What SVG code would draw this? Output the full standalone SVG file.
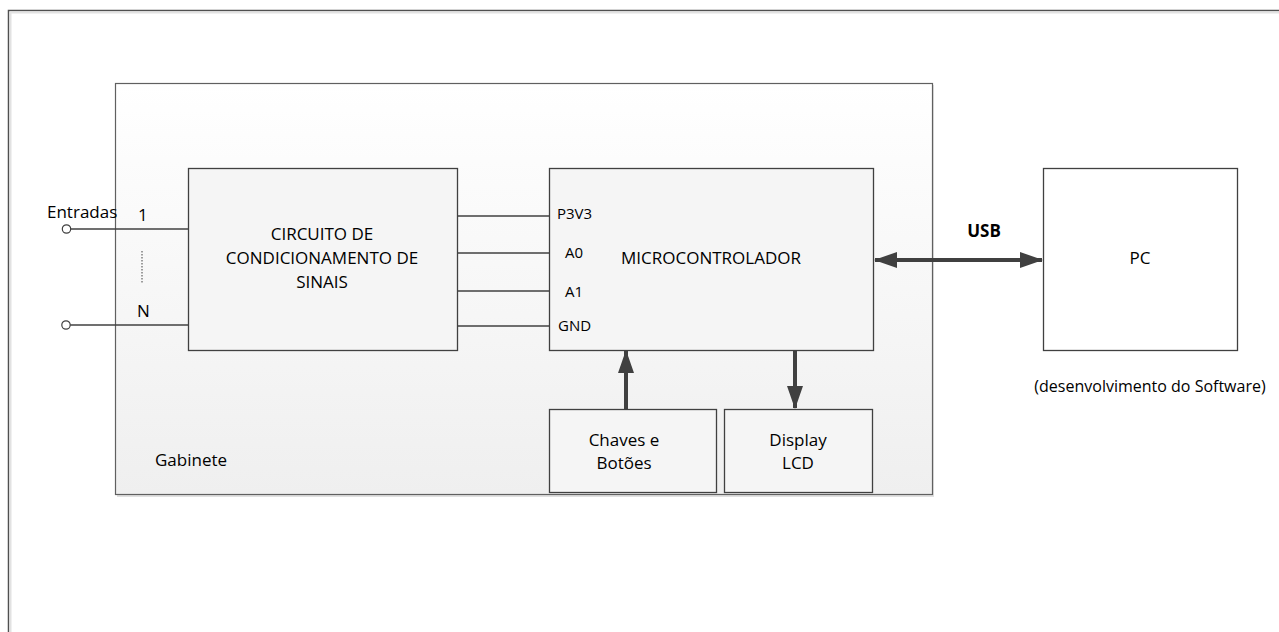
<svg xmlns="http://www.w3.org/2000/svg" width="1279" height="632" viewBox="0 0 1279 632">
<defs>
<linearGradient id="gab" x1="0" y1="0" x2="0" y2="1">
<stop offset="0" stop-color="#ffffff"/>
<stop offset="1" stop-color="#efefef"/>
</linearGradient>
<marker id="ah" markerWidth="23" markerHeight="16" refX="22" refY="8" orient="auto-start-reverse" markerUnits="userSpaceOnUse">
<path d="M0,0 L23,8 L0,16 Z" fill="#404040"/>
</marker>
<style>
text{font-family:"Open Sans","Liberation Sans",sans-serif;font-size:17px;fill:#000}
.pin{font-size:15px}
.box{fill:#f5f5f5;stroke:#404040;stroke-width:1.3}
.wbox{fill:#ffffff;stroke:#404040;stroke-width:1.3}
.wire{stroke:#404040;stroke-width:1.3;fill:none}
.thick{stroke:#404040;stroke-width:4;fill:none}
.mid{text-anchor:middle}
</style>
</defs>
<rect x="0" y="0" width="1279" height="632" fill="#ffffff"/>
<g id="frame">
<path d="M8.5,632 V10.5 H1279" fill="none" stroke="#505050" stroke-width="1.5"/>
<path d="M10.5,632 V12.5 H1279" fill="none" stroke="#e2e2e2" stroke-width="2"/>
</g>
<g id="gabinete">
<rect x="117" y="85" width="817" height="412" fill="#e0e0e0"/>
<rect x="115.5" y="83.5" width="817" height="411" fill="url(#gab)" stroke="#606060" stroke-width="1.2"/>
<text x="155" y="466">Gabinete</text>
</g>
<g id="connectors">
<circle cx="66.5" cy="229" r="4.2" fill="#fff" stroke="#404040" stroke-width="1.2"/>
<line class="wire" x1="70.7" y1="229" x2="188" y2="229"/>
<circle cx="66" cy="325" r="4.2" fill="#fff" stroke="#404040" stroke-width="1.2"/>
<line class="wire" x1="70.2" y1="325" x2="188" y2="325"/>
<line x1="142" y1="251" x2="142" y2="284" stroke="#404040" stroke-width="1" stroke-dasharray="1.5,1.5"/>
<line class="wire" x1="457" y1="216" x2="549" y2="216"/>
<line class="wire" x1="457" y1="253" x2="549" y2="253"/>
<line class="wire" x1="457" y1="291" x2="549" y2="291"/>
<line class="wire" x1="457" y1="326" x2="549" y2="326"/>
<line class="thick" x1="875" y1="260" x2="1042" y2="260" marker-start="url(#ah)" marker-end="url(#ah)"/>
<line class="thick" x1="626" y1="409" x2="626" y2="351" marker-end="url(#ah)"/>
<line class="thick" x1="795" y1="350" x2="795" y2="408" marker-end="url(#ah)"/>
</g>
<g id="labels">
<text x="47" y="218">Entradas</text>
<text x="138" y="221">1</text>
<text x="137" y="317">N</text>
<text x="984" y="237" class="mid" style="font-weight:bold;font-size:17px">USB</text>
<text x="1150" y="392" class="mid" style="font-size:16px">(desenvolvimento do Software)</text>
</g>
<g id="circuito">
<rect class="box" x="188.5" y="168.5" width="269" height="182"/>
<text x="322" y="240" class="mid">CIRCUITO DE</text>
<text x="322" y="264" class="mid">CONDICIONAMENTO DE</text>
<text x="322" y="288" class="mid">SINAIS</text>
</g>
<g id="micro">
<rect class="box" x="549.5" y="168.5" width="324" height="182"/>
<text x="557" y="219" class="pin">P3V3</text>
<text x="565" y="258" class="pin">A0</text>
<text x="565" y="297" class="pin">A1</text>
<text x="558" y="331" class="pin">GND</text>
<text x="711" y="264" class="mid">MICROCONTROLADOR</text>
</g>
<g id="pc">
<rect class="wbox" x="1043.5" y="168.5" width="194" height="182"/>
<text x="1140" y="264" class="mid">PC</text>
</g>
<g id="chaves">
<rect class="box" x="549.5" y="409.5" width="167" height="83"/>
<text x="624" y="446" class="mid">Chaves e</text>
<text x="624" y="469" class="mid">Botões</text>
</g>
<g id="display">
<rect class="box" x="724.5" y="409.5" width="148" height="83"/>
<text x="798" y="446" class="mid">Display</text>
<text x="798" y="469" class="mid">LCD</text>
</g>
</svg>
